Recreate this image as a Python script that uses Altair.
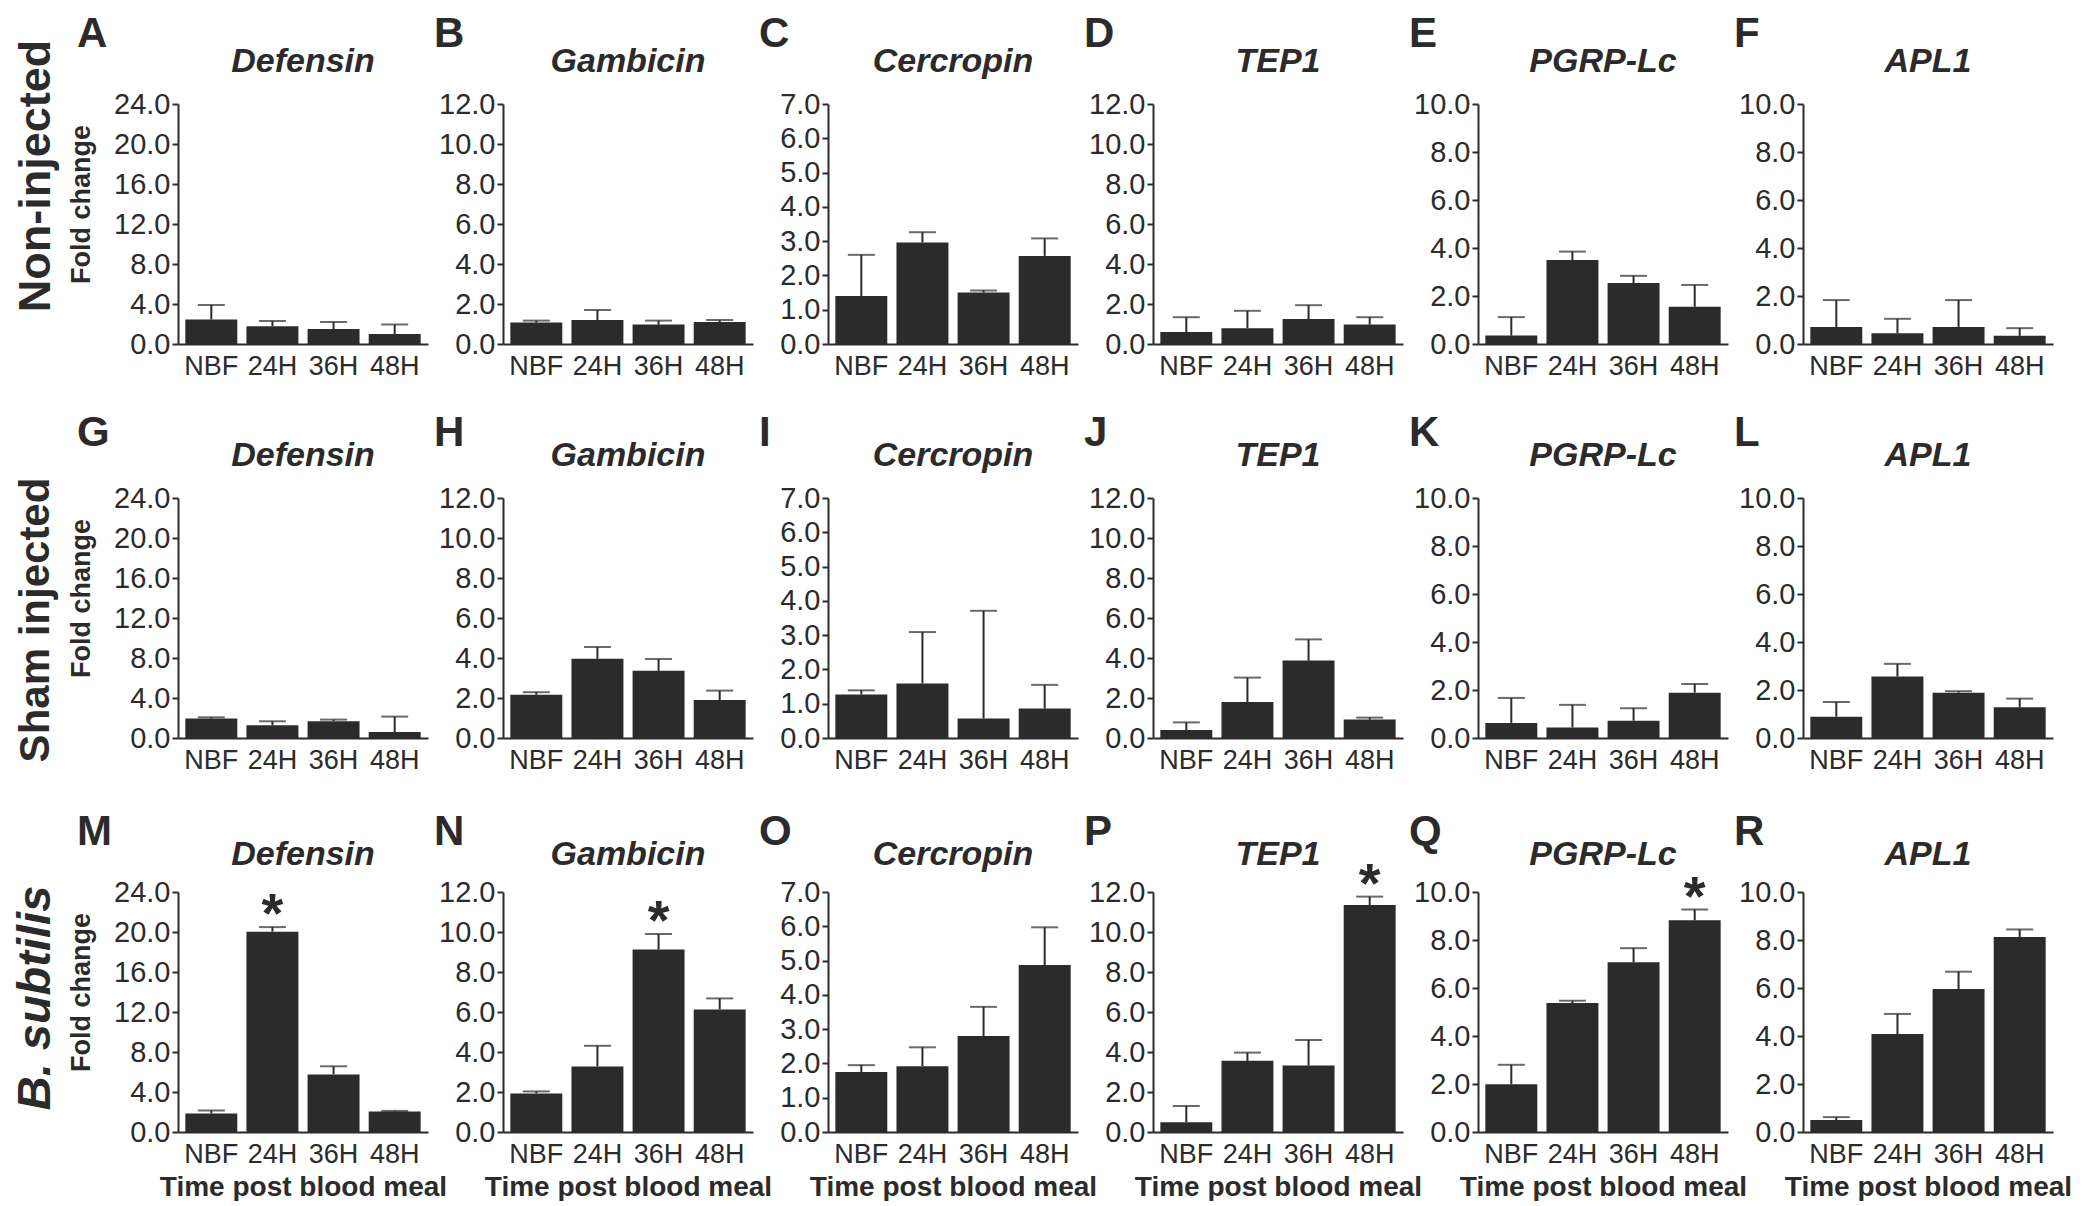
import altair as alt
import pandas as pd

# ---------------- data ----------------
TIMES = ["NBF", "24H", "36H", "48H"]
GENES = ["Defensin", "Gambicin", "Cercropin", "TEP1", "PGRP-Lc", "APL1"]
ROW_LABELS = ["Non-injected", "Sham injected", "B. subtilis"]
LETTERS_ROW1 = ["A", "B", "C", "D", "E", "F"]
LETTERS_ROW2 = ["G", "H", "I", "J", "K", "L"]
LETTERS_ROW3 = ["M", "N", "O", "P", "Q", "R"]
Y_MAX = [24, 12, 7, 12, 10, 10]
Y_STEP = [4, 2, 1, 2, 2, 2]
X_TITLE = "Time post blood meal"
Y_TITLE = "Fold change"

# Non-injected: mean fold change and SEM, one list per gene (NBF, 24H, 36H, 48H)
NONINJ_MEAN = [
    [2.45, 1.78, 1.50, 1.00],
    [1.07, 1.20, 0.97, 1.10],
    [1.40, 2.96, 1.50, 2.57],
    [0.60, 0.79, 1.25, 0.97],
    [0.35, 3.50, 2.54, 1.55],
    [0.71, 0.45, 0.71, 0.34],
]
NONINJ_SEM = [
    [1.45, 0.52, 0.70, 0.95],
    [0.10, 0.50, 0.20, 0.10],
    [1.20, 0.30, 0.06, 0.51],
    [0.74, 0.87, 0.69, 0.37],
    [0.77, 0.35, 0.30, 0.91],
    [1.12, 0.60, 1.12, 0.32],
]

# Sham injected
SHAM_MEAN = [
    [1.94, 1.27, 1.67, 0.60],
    [2.16, 3.96, 3.36, 1.90],
    [1.27, 1.59, 0.57, 0.86],
    [0.40, 1.80, 3.87, 0.92],
    [0.63, 0.44, 0.72, 1.89],
    [0.89, 2.56, 1.89, 1.28],
]
SHAM_SEM = [
    [0.13, 0.40, 0.17, 1.54],
    [0.13, 0.59, 0.59, 0.47],
    [0.12, 1.50, 3.14, 0.69],
    [0.38, 1.22, 1.06, 0.10],
    [1.04, 0.94, 0.52, 0.36],
    [0.61, 0.53, 0.06, 0.36],
]

# B. subtilis
BSUB_MEAN = [
    [1.85, 20.03, 5.76, 2.05],
    [1.93, 3.28, 9.12, 6.13],
    [1.75, 1.92, 2.80, 4.87],
    [0.49, 3.56, 3.32, 11.35],
    [1.99, 5.37, 7.07, 8.82],
    [0.50, 4.08, 5.96, 8.12],
]
BSUB_SEM = [
    [0.30, 0.46, 0.81, 0.06],
    [0.10, 1.03, 0.78, 0.55],
    [0.20, 0.55, 0.85, 1.10],
    [0.81, 0.41, 1.28, 0.42],
    [0.81, 0.10, 0.59, 0.45],
    [0.12, 0.84, 0.72, 0.32],
]
BSUB_STARS = [["24H"], ["36H"], [], ["48H"], ["48H"], []]
NO_STARS = [[], [], [], [], [], []]

MEANS = [NONINJ_MEAN, SHAM_MEAN, BSUB_MEAN]
SEMS = [NONINJ_SEM, SHAM_SEM, BSUB_SEM]
STARS = [NO_STARS, NO_STARS, BSUB_STARS]
LETTERS = [LETTERS_ROW1, LETTERS_ROW2, LETTERS_ROW3]

# ---------------- styling ----------------
FONT = "Liberation Sans"
INK = "#2b2b2b"
W, H = 250, 240
COL_SPACING = 75
ROW_SPACING = 154
LETTER_X = [-101, -69, -69, -69, -69, -69]
LETTER_Y = [-57, -52, -47]
GENE_Y = [-32, -32, -27]
ROWLABEL_Y = [72, 122, 106]
ROWLABEL_SIZE = [45, 42, 47]
ROWLABEL_X = -142


def panel(r, g):
    df = pd.DataFrame({"time": TIMES, "mean": MEANS[r][g], "sem": SEMS[r][g]})
    df["upper"] = (df["mean"] + df["sem"]).round(3)
    df["star"] = ["*" if t in STARS[r][g] else "" for t in TIMES]

    x_kw = dict(labelAngle=0, ticks=False, labelPadding=9, labelFontSize=27,
                labelColor=INK, domainColor=INK, domainWidth=2)
    if r == 2:
        x_kw.update(title=X_TITLE, titleFontSize=28, titleFontWeight="bold",
                    titlePadding=6, titleColor=INK)
    else:
        x_kw.update(title=None)
    x = alt.X("time:N", sort=TIMES,
              scale=alt.Scale(paddingInner=0.15, paddingOuter=0.12),
              axis=alt.Axis(**x_kw))

    n = int(round(Y_MAX[g] / Y_STEP[g]))
    ticks = [Y_STEP[g] * i for i in range(n + 1)]
    y_kw = dict(values=ticks, format=".1f", tickSize=6, tickWidth=2, tickColor=INK,
                labelPadding=2, labelFontSize=29, labelColor=INK,
                domainColor=INK, domainWidth=2, grid=False)
    if g == 0:
        y_kw.update(title=Y_TITLE, titleFontSize=27, titleFontWeight="bold",
                    titlePadding=18, titleColor=INK, titleY=H / 2 - 20)
    else:
        y_kw.update(title=None)
    ysc = alt.Scale(domain=[0, Y_MAX[g]], nice=False, zero=True)
    yax = alt.Axis(**y_kw)

    base = alt.Chart(df)
    bars = base.mark_bar(color=INK).encode(
        x=x, y=alt.Y("mean:Q", scale=ysc, axis=yax))
    stems = base.mark_rule(color=INK, strokeWidth=2).encode(
        x=x, y=alt.Y("mean:Q", scale=ysc, axis=yax), y2="upper:Q")
    caps = base.mark_tick(color=INK, thickness=2, size=27, orient="horizontal").encode(
        x=x, y=alt.Y("upper:Q", scale=ysc, axis=yax))
    stars = base.transform_filter("datum.star != ''").mark_text(
        fontSize=56, fontWeight="bold", color=INK, baseline="alphabetic", dy=5
    ).encode(x=x, y=alt.Y("upper:Q", scale=ysc, axis=yax), text="star:N")

    letter = alt.Chart(pd.DataFrame({"t": [LETTERS[r][g]]})).mark_text(
        fontSize=42, fontWeight="bold", color=INK, align="left", baseline="alphabetic"
    ).encode(text="t:N", x=alt.value(LETTER_X[g]), y=alt.value(LETTER_Y[r]))
    gene = alt.Chart(pd.DataFrame({"t": [GENES[g]]})).mark_text(
        fontSize=34, fontWeight="bold", fontStyle="italic", color=INK,
        align="center", baseline="alphabetic"
    ).encode(text="t:N", x=alt.value(W / 2), y=alt.value(GENE_Y[r]))

    layers = [bars, stems, caps, stars, letter, gene]
    if g == 0:
        rowlab = alt.Chart(pd.DataFrame({"t": [ROW_LABELS[r]]})).mark_text(
            fontSize=ROWLABEL_SIZE[r], fontWeight="bold",
            fontStyle="italic" if r == 2 else "normal",
            color=INK, angle=270, align="center", baseline="middle"
        ).encode(text="t:N", x=alt.value(ROWLABEL_X), y=alt.value(ROWLABEL_Y[r]))
        layers.append(rowlab)
    return alt.layer(*layers).properties(width=W, height=H)


panels = [panel(r, g) for r in range(3) for g in range(6)]
chart = alt.concat(
    *panels, columns=6, bounds="flush",
    spacing={"row": ROW_SPACING, "column": COL_SPACING},
).properties(
    padding={"left": 3, "top": 5, "right": 0, "bottom": 0}
).configure(font=FONT).configure_view(strokeWidth=0).configure_axis(grid=False)

chart.save("out.html", embed_options={"renderer": "svg", "actions": False})
